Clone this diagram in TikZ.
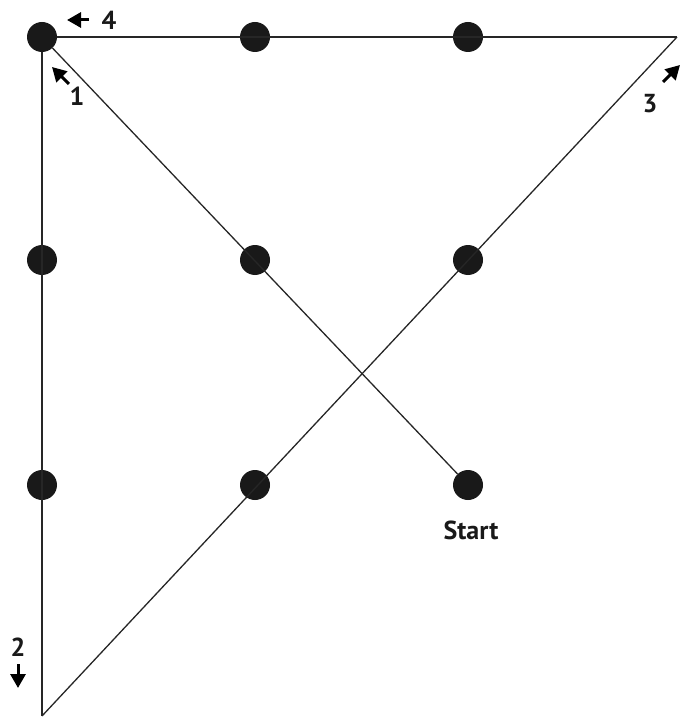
\documentclass[tikz,border=0pt]{standalone}
\usepackage{fontspec}
\setmainfont{PT Sans}
\usetikzlibrary{arrows.meta}
\begin{document}
\begin{tikzpicture}[x=1pt,y=-1pt,
  dot/.style={circle,fill=black!90,inner sep=0pt,minimum size=30pt},
  seg/.style={line width=1.3pt,draw=black!85},
  marker/.style={line width=3pt,-{Triangle[length=14pt,width=15pt]}},
  lbl/.style={font=\fontsize{26}{30}\selectfont\bfseries,text=black!90,inner sep=0pt}]
\useasboundingbox (0,0) rectangle (680,719);
\node[dot] (d11) at (42,37) {};
\node[dot] (d12) at (255,37) {};
\node[dot] (d13) at (468,37) {};
\node[dot] (d21) at (42,260) {};
\node[dot] (d22) at (255,260) {};
\node[dot] (d23) at (468,260) {};
\node[dot] (d31) at (42,485) {};
\node[dot] (d32) at (255,485) {};
\node[dot] (start) at (468,485) {};
\coordinate (bl) at (42,716);
\coordinate (tr) at (677,37);
\draw[seg] (start) -- (d11);
\draw[seg] (d11) -- (bl);
\draw[seg] (bl) -- (tr);
\draw[seg] (tr) -- (d11);
\coordinate (a4s) at (89,20); \coordinate (a4e) at (67,20);
\coordinate (a1s) at (69,84); \coordinate (a1e) at (52,67);
\coordinate (a3s) at (663,82); \coordinate (a3e) at (680,65);
\coordinate (a2s) at (18,664); \coordinate (a2e) at (18,688);
\draw[marker] (a4s) -- (a4e);
\draw[marker] (a1s) -- (a1e);
\draw[marker] (a3s) -- (a3e);
\draw[marker] (a2s) -- (a2e);
\node[lbl] (l4) at (109,20) {4};
\node[lbl] (l1) at (77,96) {1};
\node[lbl] (l3) at (650,104) {3};
\node[lbl] (l2) at (18,647) {2};
\node[lbl] (ls) at (471,530) {Start};
\end{tikzpicture}
\end{document}
